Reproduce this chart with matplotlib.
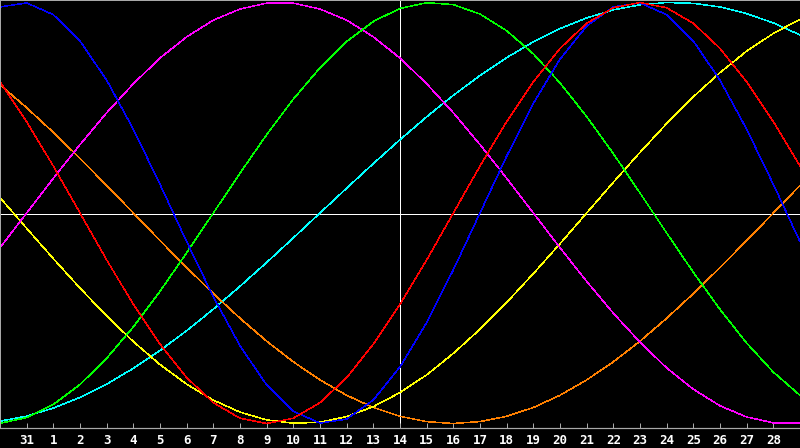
import matplotlib
matplotlib.use("Agg")
import matplotlib.pyplot as plt
import numpy as np

# Days shown along the x axis (one point per day)
days = [30, 31] + list(range(1, 30))
tick_days = days[1:-1]  # labelled days: 31, 1 .. 28
marker_day = 14         # day marked by the vertical white line

# Cycle values per day (-1 .. 1)
physical = [0.979, 0.998, 0.942, 0.817, 0.631, 0.398, 0.136, -0.136, -0.398, -0.631,
            -0.817, -0.942, -0.998, -0.979, -0.888, -0.731, -0.520, -0.270, 0.000, 0.270,
            0.520, 0.731, 0.888, 0.979, 0.998, 0.942, 0.817, 0.631, 0.398, 0.136, -0.136]
emotional = [0.623, 0.434, 0.223, 0.000, -0.223, -0.434, -0.623, -0.782, -0.901, -0.975,
             -1.000, -0.975, -0.901, -0.782, -0.623, -0.434, -0.223, 0.000, 0.223, 0.434,
             0.623, 0.782, 0.901, 0.975, 1.000, 0.975, 0.901, 0.782, 0.623, 0.434, 0.223]
intellectual = [-0.999, -0.972, -0.910, -0.815, -0.690, -0.541, -0.372, -0.189, 0.000, 0.189,
                0.372, 0.541, 0.690, 0.815, 0.910, 0.972, 0.999, 0.990, 0.945, 0.866,
                0.756, 0.618, 0.458, 0.282, 0.095, -0.095, -0.282, -0.458, -0.618, -0.756, -0.866]
intuitive = [-0.165, 0.000, 0.165, 0.325, 0.476, 0.614, 0.736, 0.837, 0.916, 0.969,
             0.997, 0.997, 0.969, 0.916, 0.837, 0.736, 0.614, 0.476, 0.325, 0.165,
             0.000, -0.165, -0.325, -0.476, -0.614, -0.736, -0.837, -0.916, -0.969, -0.997, -0.997]
aesthetic = [0.073, -0.073, -0.217, -0.357, -0.489, -0.611, -0.720, -0.813, -0.889, -0.946,
             -0.983, -0.999, -0.994, -0.967, -0.920, -0.853, -0.769, -0.667, -0.552, -0.425,
             -0.288, -0.146, 0.000, 0.146, 0.288, 0.425, 0.552, 0.667, 0.769, 0.853, 0.920]
awareness = [0.609, 0.500, 0.383, 0.259, 0.131, 0.000, -0.131, -0.259, -0.383, -0.500,
             -0.609, -0.707, -0.793, -0.866, -0.924, -0.966, -0.991, -1.000, -0.991, -0.966,
             -0.924, -0.866, -0.793, -0.707, -0.609, -0.500, -0.383, -0.259, -0.131, 0.000, 0.131]
spiritual = [-0.989, -0.965, -0.927, -0.876, -0.813, -0.738, -0.653, -0.559, -0.457, -0.348,
             -0.235, -0.118, 0.000, 0.118, 0.235, 0.348, 0.457, 0.559, 0.653, 0.738,
             0.813, 0.876, 0.927, 0.965, 0.989, 1.000, 0.996, 0.979, 0.947, 0.903, 0.846]

series = [
    (spiritual, "#00ffff"),
    (awareness, "#ff8000"),
    (aesthetic, "#ffff00"),
    (intuitive, "#ff00ff"),
    (intellectual, "#00ff00"),
    (physical, "#0000ff"),
    (emotional, "#ff0000"),
]

W, H, DPI = 800, 448, 100
fig = plt.figure(figsize=(W / DPI, H / DPI), dpi=DPI, facecolor="black")
ax = fig.add_axes([0, 20 / H, 1, 428 / H])
ax.set_facecolor("black")

idx = np.arange(len(days))
ax.set_xlim(0, len(days) - 1)
ax.set_ylim(-1.0214, 1.0119)

px = 72 / DPI
ax.axhline(-0.005, color="white", lw=1.0 * px, zorder=1, antialiased=False)
ax.axvline(days.index(marker_day), color="white", lw=1.0 * px, zorder=1, antialiased=False)

for vals, col in series:
    ax.plot(idx, vals, color=col, lw=0.5 * px, zorder=2, antialiased=False)

gray = "#a8a8a8"
ax.spines["right"].set_visible(False)
for side in ["left", "top"]:
    ax.spines[side].set_color(gray)
    ax.spines[side].set_linewidth(2 * px)
ax.spines["bottom"].set_color(gray)
ax.spines["bottom"].set_linewidth(1.2 * px)

ax.set_yticks([])
ax.set_xticks(idx[1:-1])
ax.set_xticklabels([str(d) for d in tick_days])
ax.tick_params(axis="x", direction="in", length=5 * px, width=1 * px, color=gray,
               labelcolor="white", pad=4, labelsize=9)
for lab in ax.get_xticklabels():
    lab.set_fontfamily("DejaVu Sans Mono")
    lab.set_fontweight("bold")

fig.savefig("out.png", dpi=DPI, facecolor="black")
